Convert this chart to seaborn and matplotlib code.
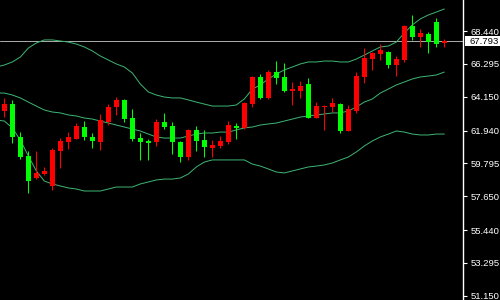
import numpy as np
import pandas as pd
import matplotlib
matplotlib.use("Agg")
import matplotlib.pyplot as plt
import matplotlib.transforms as mtransforms
from matplotlib.patches import Rectangle
import seaborn as sns

# ---- data ----
opens = [63.22, 63.67, 61.52, 60.28, 58.84, 59.10, 58.32, 60.60, 61.19, 61.39,
         62.17, 61.52, 61.19, 62.50, 63.48, 63.94, 62.76, 61.45, 61.26, 61.19,
         62.50, 62.24, 61.19, 60.21, 61.98, 61.32, 60.80, 60.93, 61.19, 62.24,
         62.11, 63.67, 65.44, 64.07, 65.76, 65.44, 64.52, 64.52, 64.98, 62.76,
         63.48, 63.48, 63.67, 61.91, 63.22, 65.44, 66.61, 66.94, 67.07, 66.22,
         66.55, 68.77, 68.05, 68.25, 69.03, 67.66]
highs = [64.07, 63.94, 61.84, 60.60, 60.60, 59.56, 60.80, 61.45, 61.84, 62.43,
         62.56, 61.78, 63.02, 63.67, 64.13, 64.00, 63.35, 61.78, 61.39, 62.69,
         63.09, 62.50, 61.26, 62.04, 62.24, 61.98, 61.32, 61.58, 62.56, 62.43,
         63.80, 65.50, 65.63, 65.90, 66.48, 66.35, 65.11, 65.18, 65.37, 63.80,
         63.61, 64.07, 63.74, 63.61, 65.76, 67.33, 67.07, 67.59, 67.14, 66.81,
         68.84, 69.49, 68.57, 68.38, 69.29, 67.92]
lows = [62.82, 61.13, 60.08, 57.86, 58.80, 59.04, 58.06, 59.49, 60.73, 61.37,
        61.32, 60.80, 60.67, 62.30, 62.96, 62.50, 61.26, 60.02, 60.02, 60.93,
        62.04, 60.41, 59.88, 60.02, 60.60, 60.21, 60.21, 60.80, 61.06, 61.39,
        62.04, 63.48, 64.00, 64.00, 64.98, 64.46, 63.61, 64.07, 62.74, 62.74,
        61.98, 63.15, 61.78, 61.89, 63.09, 65.05, 65.90, 66.55, 66.03, 65.50,
        66.42, 67.86, 67.40, 67.01, 67.40, 67.40]
closes = [63.67, 61.52, 60.21, 58.64, 59.17, 59.30, 60.67, 61.26, 61.52, 62.24,
          61.52, 61.26, 62.63, 63.48, 63.94, 62.69, 61.39, 61.19, 61.13, 62.50,
          62.17, 61.19, 60.21, 61.98, 61.26, 60.87, 61.00, 61.26, 62.30, 62.11,
          63.74, 65.44, 64.07, 65.76, 65.37, 64.52, 64.65, 64.85, 62.76, 63.54,
          63.54, 63.74, 61.91, 63.35, 65.50, 66.68, 67.01, 67.20, 66.22, 66.61,
          68.77, 68.05, 68.31, 67.72, 67.59, 67.793]

# Bollinger bands, one value per bar starting one bar before the first visible candle
band_index = list(range(-1, 56))
upper = [66.09, 66.22, 66.42, 66.74, 67.33, 67.66, 67.86, 67.86, 67.79, 67.72,
         67.59, 67.40, 67.14, 66.81, 66.55, 66.29, 66.09, 65.70, 64.98, 64.46,
         64.26, 64.13, 64.07, 64.07, 63.94, 63.80, 63.67, 63.54, 63.54, 63.54,
         63.61, 64.00, 64.65, 64.92, 65.31, 65.63, 65.90, 66.09, 66.29, 66.42,
         66.42, 66.48, 66.48, 66.42, 66.42, 66.61, 66.87, 67.14, 67.40, 67.46,
         67.72, 68.31, 68.84, 69.23, 69.49, 69.68, 69.88]
middle = [64.39, 64.39, 64.26, 64.07, 63.80, 63.54, 63.28, 63.15, 63.09, 62.96,
          62.89, 62.76, 62.69, 62.56, 62.43, 62.30, 62.17, 62.04, 61.91, 61.71,
          61.52, 61.45, 61.45, 61.45, 61.58, 61.71, 61.78, 61.78, 61.84, 61.84,
          61.98, 62.11, 62.17, 62.30, 62.37, 62.43, 62.56, 62.69, 62.82, 62.89,
          62.96, 63.02, 63.09, 63.09, 63.22, 63.48, 63.80, 64.00, 64.39, 64.65,
          64.92, 65.11, 65.31, 65.44, 65.50, 65.57, 65.76]
lower = [62.63, 62.56, 62.11, 61.32, 60.28, 59.30, 58.64, 58.45, 58.32, 58.19,
         58.12, 57.99, 57.99, 57.99, 58.12, 58.25, 58.25, 58.25, 58.45, 58.58,
         58.71, 58.77, 58.77, 58.84, 59.10, 59.56, 59.88, 60.02, 60.02, 60.02,
         60.02, 60.02, 59.75, 59.62, 59.43, 59.23, 59.17, 59.30, 59.43, 59.56,
         59.62, 59.69, 59.82, 60.02, 60.21, 60.54, 60.93, 61.26, 61.52, 61.71,
         61.91, 61.84, 61.71, 61.65, 61.65, 61.71, 61.71]

ytick_values = [68.440, 66.295, 64.150, 61.940, 59.795, 57.650, 55.440, 53.295, 51.150]
ytick_labels = ["68.440", "66.295", "64.150", "61.940", "59.795",
                "57.650", "55.440", "53.295", "51.150"]
current_price = 67.793

# ---- build tables ----
candles = pd.DataFrame({"idx": np.arange(len(opens)), "open": opens, "high": highs,
                        "low": lows, "close": closes})
bands = pd.DataFrame({"idx": band_index, "upper": upper, "middle": middle, "lower": lower})

UP = "#ff0000"
DOWN = "#00ff00"
BAND = "#3cb371"

sns.set_theme(style="dark")
plt.rcParams["font.family"] = ["Liberation Sans", "DejaVu Sans"]

fig = plt.figure(figsize=(5, 3), dpi=100, facecolor="black")
ax = fig.add_axes([0, 0, 463 / 500, 1])
ax.set_facecolor("black")

# bands
for col in ["upper", "middle", "lower"]:
    sns.lineplot(data=bands, x="idx", y=col, ax=ax, color=BAND, lw=0.72,
                 estimator=None)

# current price line
ax.axhline(current_price, color="#a8a8a8", lw=0.72, zorder=1)

# candles
colors = [UP if c >= o else DOWN for o, c in zip(candles["open"], candles["close"])]
ax.vlines(candles["idx"], candles["low"], candles["high"], colors=colors, lw=0.75,
          zorder=3)
body_bottom = np.minimum(candles["open"], candles["close"])
body_height = np.maximum(np.abs(candles["close"] - candles["open"]), 0.065)
ax.bar(candles["idx"], body_height, bottom=body_bottom, width=0.62, color=colors,
       linewidth=0, zorder=4)

# scales
ax.set_xlim(-0.54, -0.54 + 463 / 8)
ax.set_ylim(50.869, 70.468)
ax.set_xlabel("")
ax.set_ylabel("")
ax.set_xticks([])
ax.grid(False)

ax.yaxis.tick_right()
ax.set_yticks(ytick_values)
ax.set_yticklabels(ytick_labels)
ax.tick_params(axis="y", colors="white", length=3, width=0.8, direction="out",
               pad=2.5, labelsize=6.8, labelcolor="white")
for s in ["top", "left", "bottom"]:
    ax.spines[s].set_visible(False)
ax.spines["right"].set_visible(True)
ax.spines["right"].set_color("white")
ax.spines["right"].set_linewidth(1.0)

# current price label box
trans = mtransforms.blended_transform_factory(ax.transAxes, ax.transData)
ax.add_patch(Rectangle((1.0 + 2 / 463, current_price - 0.36), 40 / 463, 0.70,
                       transform=trans, facecolor="white", edgecolor="none",
                       clip_on=False, zorder=5))
ax.text(1.0 + 6 / 463, current_price - 0.02, f"{current_price:.3f}", transform=trans,
        ha="left", va="center", color="black", fontsize=6.8, zorder=6, clip_on=False)

fig.savefig("out.png", dpi=100, facecolor="black")
